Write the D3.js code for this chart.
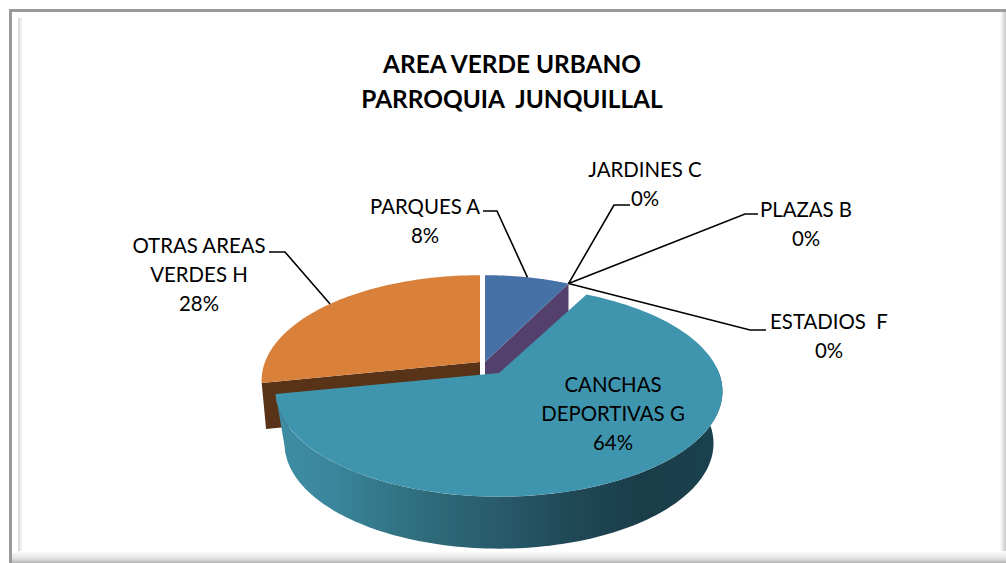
<!DOCTYPE html>
<html><head><meta charset="utf-8">
<script src="https://cdnjs.cloudflare.com/ajax/libs/d3/7.8.5/d3.min.js"></script>
<style>html,body{margin:0;padding:0;background:#fff}svg{display:block}text{font-family:Lato,"Open Sans",sans-serif;fill:#000;white-space:pre}</style>
</head><body><svg id="c" width="1006" height="563"></svg>
<script>
const categories = ["PARQUES A","JARDINES C","PLAZAS B","ESTADIOS  F","CANCHAS DEPORTIVAS G","OTRAS AREAS VERDES H"];
const values = [7.6,0,0,0,64.2,28.2];
const titleLines = ["AREA VERDE URBANO","PARROQUIA  JUNQUILLAL"];
const labelLines = [["PARQUES A"],["JARDINES C"],["PLAZAS B"],["ESTADIOS  F"],["CANCHAS","DEPORTIVAS G"],["OTRAS AREAS","VERDES H"]];
const topColors = ["#4571a7","#4571a7","#4571a7","#4571a7","#3f95ae","#d9813b"];
const cutColors = ["#54406c","#54406c","#54406c","#54406c","#3f95ae","#583318"];

const svg = d3.select("#c");
const defs = svg.append("defs");
function grad(id,x1,y1,x2,y2,stops){
  const g=defs.append("linearGradient").attr("id",id).attr("gradientUnits","objectBoundingBox")
    .attr("x1",x1).attr("y1",y1).attr("x2",x2).attr("y2",y2);
  stops.forEach(s=>g.append("stop").attr("offset",s[0]).attr("stop-color",s[1]));
}
grad("wall",0,0,1,0,[[0,"#3e8ca3"],[.12,"#3a879d"],[.3,"#30707f"],[.5,"#285a6b"],[.68,"#1f4754"],[.82,"#1a3d49"],[1,"#1b414e"]]);
grad("fb",0,0,0,1,[[0,"#ffffff"],[.6,"#e4e4e4"],[1,"#b4b4b4"]]);
grad("fr",0,0,1,0,[[0,"#ffffff"],[1,"#c8c8c8"]]);
grad("fl",0,0,1,0,[[0,"#d4d4d4"],[1,"#ffffff"]]);

// frame
svg.append("rect").attr("x",9).attr("y",9).attr("width",997).attr("height",3).attr("fill","#9a9a9a");
svg.append("rect").attr("x",9).attr("y",9).attr("width",3).attr("height",554).attr("fill","#9a9a9a");
svg.append("rect").attr("x",18).attr("y",18).attr("width",5).attr("height",534).attr("fill","url(#fl)");
svg.append("rect").attr("x",1000).attr("y",12).attr("width",6).attr("height",540).attr("fill","url(#fr)");
svg.append("rect").attr("x",12).attr("y",551).attr("width",994).attr("height",12).attr("fill","url(#fb)");

// title
svg.append("g").selectAll("text").data(titleLines).join("text")
  .attr("x",512).attr("y",(d,i)=>73+i*35).attr("text-anchor","middle")
  .attr("font-size",24.4).attr("font-weight",700).text(d=>d);

// pie in perspective
const total = d3.sum(values);
const pie = d3.pie().value(d=>d).sort(null).startAngle(0).endAngle(2*Math.PI);
const arcs = pie(values);
const P = 0.175, RY = 102;
const geom = {0:{cx:485,cy:362,rx:210},4:{cx:499,cy:373,rx:220},5:{cx:480,cy:362,rx:215}};
const unit = d3.scaleLinear().domain([-1,1]).range([-1,1]);
function proj(g,a,r=1,dy=0,sc=1){
  const u=unit(Math.sin(a))*r, v=unit(Math.cos(a))*r, d=1+P*v;
  return [g.cx+g.rx*sc*u/d, g.cy+dy-RY*v/d];
}
const line = d3.line();
function rim(g,a0,a1,dy=0,sc=1){
  const st=d3.range(0,121).map(i=>a0+(a1-a0)*i/120);
  return st.map(a=>proj(g,a,1,dy,sc));
}
const DEPTH = 46, WALL = 52;
const chart = svg.append("g");
const order=[5,0,4];
order.forEach(i=>{
  const g=geom[i], A=arcs[i], a0=A.startAngle, a1=A.endAngle;
  if(i===5){
    const p=proj(g,a0), c=proj(g,0,0);
    chart.append("path").attr("fill",cutColors[i]).attr("d",line([c,p,proj(g,a0,1,DEPTH,.98),proj(g,0,0,DEPTH)])+"Z");
  }
  if(i===0){
    const p=proj(g,a1), c=proj(g,0,0);
    chart.append("path").attr("fill",cutColors[i]).attr("d",line([c,p,proj(g,a1,1,DEPTH),proj(g,0,0,DEPTH)])+"Z");
  }
  if(i===4){
    const lo=Math.PI/2-0.05, hi=a1;
    const wall=rim(g,lo,hi).concat(rim(g,lo,hi,WALL,.96).reverse());
    chart.append("path").attr("fill","url(#wall)").attr("d",line(wall)+"Z");
  }
  chart.append("path").attr("fill",topColors[i])
    .attr("d",line([proj(g,0,0)].concat(rim(g,a0,a1)))+"Z");
});

// labels and leaders
const pct = d3.format(".0%");
const FS = 20.4, LH = 29;
const labelBox = [
  {x:425,y:214,elbow:[497,211],start:[483,211]},
  {x:645,y:177,elbow:[614,205],start:[630,205]},
  {x:806,y:217,elbow:[745,214],start:[758,214]},
  {x:829,y:329,elbow:[750,330],start:[766,330]},
  {x:613,y:392},
  {x:199,y:253,elbow:[285,252],start:[269,252]}
];
const anchorGeom=[0,0,0,0,4,5];
labelBox.forEach((b,i)=>{
  const A=arcs[i];
  if(b.elbow){
    const end=proj(geom[anchorGeom[i]],(A.startAngle+A.endAngle)/2);
    svg.append("path").attr("fill","none").attr("stroke","#000").attr("stroke-width",1.6)
      .attr("d",line([b.start,b.elbow,end]));
  }
  const lines=labelLines[i].concat([pct(values[i]/total)]);
  svg.append("g").selectAll("text").data(lines).join("text")
    .attr("x",b.x).attr("y",(d,k)=>b.y+k*LH).attr("text-anchor","middle")
    .attr("font-size",FS).text(d=>d);
});
</script></body></html>
